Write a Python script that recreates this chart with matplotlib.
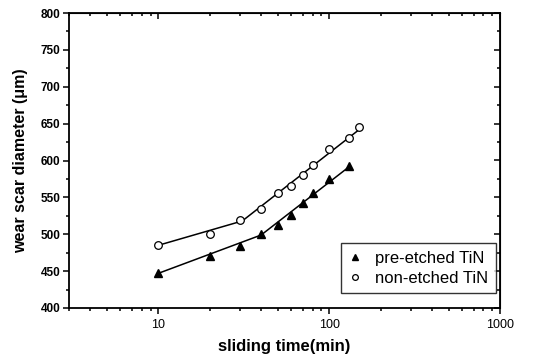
import matplotlib
matplotlib.use('Agg')
import matplotlib.pyplot as plt
from matplotlib.ticker import MultipleLocator, LogLocator, NullFormatter, FixedLocator

# sliding time (min) vs wear scar diameter (um)
t_pre = [10, 20, 30, 40, 50, 60, 70, 80, 100, 130]
d_pre = [447, 471, 484, 500, 513, 526, 542, 556, 575, 592]
t_non = [10, 20, 30, 40, 50, 60, 70, 80, 100, 130, 150]
d_non = [485, 501, 519, 534, 556, 566, 580, 594, 616, 631, 645]

# piecewise fit lines
fit_pre_t = [10, 40, 130]
fit_pre_d = [447, 499, 591]
fit_non_t = [10, 31, 150]
fit_non_d = [485, 518, 642]

plt.rcParams['font.family'] = ['Liberation Sans', 'DejaVu Sans']

fig = plt.figure(figsize=(5.5, 3.6), dpi=100)
ax = fig.add_axes([69/550, 1 - 308/360, (500-69)/550, (308-13)/360])

ax.plot(fit_pre_t, fit_pre_d, color='black', lw=1.1, zorder=2)
ax.plot(fit_non_t, fit_non_d, color='black', lw=1.1, zorder=2)
ax.plot(t_pre, d_pre, ls='none', marker='^', ms=6, color='black', zorder=3,
        label='pre-etched TiN')
ax.plot(t_non, d_non, ls='none', marker='o', ms=5.5, mfc='white', mec='black',
        mew=0.9, zorder=3, label='non-etched TiN')

ax.set_xscale('log')
ax.set_xlim(3, 1000)
ax.set_ylim(400, 800)
ax.xaxis.set_major_locator(FixedLocator([10, 100, 1000]))
ax.xaxis.set_minor_locator(LogLocator(base=10, subs=range(2, 10)))
ax.xaxis.set_minor_formatter(NullFormatter())
ax.set_xticklabels(['10', '100', '1000'])
ax.yaxis.set_major_locator(MultipleLocator(50))
ax.yaxis.set_minor_locator(MultipleLocator(25))

for s in ax.spines.values():
    s.set_linewidth(1.3)

ax.tick_params(which='both', direction='out', width=1.1, pad=2)
ax.tick_params(axis='y', labelsize=8.5)
ax.tick_params(axis='x', labelsize=9, pad=4)
ax.tick_params(which='major', length=4)
ax.tick_params(which='minor', length=2.5)
for lab in ax.get_yticklabels():
    lab.set_fontweight('bold')

ax.set_xlabel('sliding time(min)', fontsize=12, fontweight='heavy', labelpad=6)
ax.set_ylabel('wear scar diameter (\u03bcm)', fontsize=11.5, fontweight='heavy', labelpad=9)

# mirrored ticks on top/right pointing inward
axt = ax.secondary_xaxis('top')
axt.xaxis.set_major_locator(FixedLocator([10, 100, 1000]))
axt.xaxis.set_minor_locator(LogLocator(base=10, subs=range(2, 10)))
axt.tick_params(which='both', direction='in', labeltop=False, width=1.1)
axt.tick_params(which='major', length=4)
axt.tick_params(which='minor', length=2.5)
axt.xaxis.set_major_formatter(NullFormatter())
axt.xaxis.set_minor_formatter(NullFormatter())
axr = ax.secondary_yaxis('right')
axr.yaxis.set_major_locator(MultipleLocator(50))
axr.yaxis.set_minor_locator(MultipleLocator(25))
axr.tick_params(which='both', direction='in', labelright=False, width=1.1)
axr.tick_params(which='major', length=4)
axr.tick_params(which='minor', length=2.5)

leg = ax.legend(loc='lower right', bbox_to_anchor=(0.99, 0.05), fontsize=12,
                frameon=True, fancybox=False, edgecolor='black',
                handlelength=0.8, handletextpad=0.8, borderpad=0.45,
                labelspacing=0.3, markerscale=0.75, borderaxespad=0)
leg.get_frame().set_linewidth(1.0)

fig.savefig('out.png', dpi=100)
